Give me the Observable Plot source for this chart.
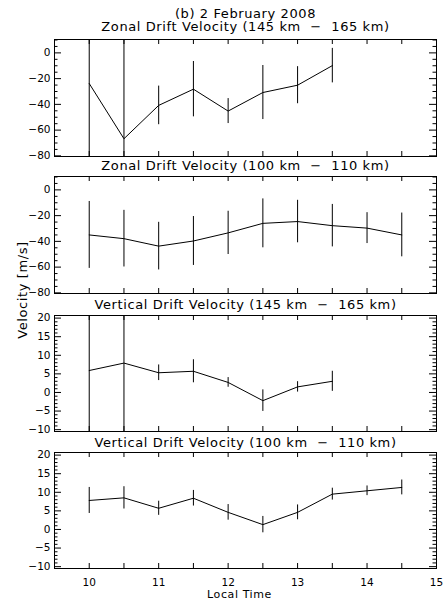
<!DOCTYPE html>
<html><head><meta charset="utf-8">
<script src="https://cdn.jsdelivr.net/npm/d3@7"></script>
<script src="https://cdn.jsdelivr.net/npm/@observablehq/plot@0.6"></script>
<style>
body{margin:0;background:#fff;}
#wrap{position:relative;width:443px;height:602px;overflow:hidden;font-family:"DejaVu Sans",sans-serif;background:#fff;}
.p{position:absolute;left:0;}
.p svg{overflow:visible;}
#ylab{position:absolute;left:22px;top:290px;transform:translate(-50%,-50%) rotate(-90deg);font-size:13px;letter-spacing:0.6px;white-space:nowrap;line-height:1;color:#000;z-index:5;}
</style></head><body><div id="wrap"><div id="ylab">Velocity [m/s]</div></div>
<script>
// ---- data ----
const mainTitle = "(b) 2 February 2008";
const panelTitles = [
  "Zonal Drift Velocity (145 km  \u2212  165 km)",
  "Zonal Drift Velocity (100 km  \u2212  110 km)",
  "Vertical Drift Velocity (145 km  \u2212  165 km)",
  "Vertical Drift Velocity (100 km  \u2212  110 km)"
];
const xLabel = "Local Time";

const timeHigh = [10, 10.5, 11, 11.5, 12, 12.5, 13, 13.5];
const timeLow = [10, 10.5, 11, 11.5, 12, 12.5, 13, 13.5, 14, 14.5];

const zonalHigh = [-23.8, -66.7, -40.8, -28.2, -45.2, -30.8, -25.1, -9.9];
const zonalHighErr = [100, 100, 15, 21.5, 9.7, 21, 14.4, 13.4];

const zonalLow = [-35.0, -37.9, -43.7, -39.7, -33.4, -26.0, -24.6, -27.8, -29.7, -35.0];
const zonalLowErr = [26, 22, 18.5, 19, 16.8, 19, 16.5, 16.5, 12, 17];

const vertHigh = [5.9, 7.9, 5.3, 5.7, 2.7, -2.2, 1.5, 3.0];
const vertHighErr = [25, 25, 2.1, 3.1, 1.3, 2.9, 1.4, 2.7];

const vertLow = [7.8, 8.5, 5.7, 8.4, 4.6, 1.3, 4.6, 9.5, 10.4, 11.3];
const vertLowErr = [3.5, 3.0, 1.9, 2.1, 2.1, 2.2, 2.0, 1.6, 1.3, 2.0];

const xTickValues = [10, 10.5, 11, 11.5, 12, 12.5, 13, 13.5, 14, 14.5];
const xTickLabels = [10, 11, 12, 13, 14, 15];
const zonalMajor = [0, -20, -40, -60, -80];
const zonalMinor = [10, 5, -5, -10, -15, -25, -30, -35, -45, -50, -55, -65, -70, -75];
const vertMajor = [20, 15, 10, 5, 0, -5, -10];
const vertMinor = d3.range(-10, 21, 1).filter(v => v % 5 !== 0);

// ---- layout ----
const W = 443, ML = 54, MR = 7, FW = W - ML - MR;

function panel(o) {
  const data = o.x.map((x, i) => ({x, y: o.y[i], lo: o.y[i] - o.err[i], hi: o.y[i] + o.err[i]}));
  const fh = o.fh;
  const marks = [
    Plot.frame({stroke: "black", strokeWidth: 1}),
    Plot.tickX(xTickValues, {x: d => d, insetTop: fh - 5, stroke: "black"}),
    Plot.tickX(xTickValues, {x: d => d, insetBottom: fh - 5, stroke: "black"}),
    Plot.tickY(o.major, {y: d => d, insetRight: FW - 7, stroke: "black"}),
    Plot.tickY(o.major, {y: d => d, insetLeft: FW - 7, stroke: "black"}),
    Plot.tickY(o.minor, {y: d => d, insetRight: FW - 3.5, stroke: "black"}),
    Plot.tickY(o.minor, {y: d => d, insetLeft: FW - 3.5, stroke: "black"}),
    Plot.axisY(o.major, {tickSize: 0, tickPadding: 4, fontSize: 10.5, label: null}),
    Plot.ruleX(data, {x: "x", y1: "lo", y2: "hi", stroke: "black", strokeWidth: 1, clip: true}),
    Plot.line(data, {x: "x", y: "y", stroke: "black", strokeWidth: 1, clip: true}),
  ];
  o.titles.forEach(t => marks.push(Plot.text([t.text], {text: d => d, frameAnchor: "top", lineAnchor: "bottom", dy: t.dy, fontSize: 13, fill: "black"})));
  if (o.xaxis) {
    marks.push(Plot.axisX(xTickLabels, {tickSize: 0, tickPadding: 10, fontSize: 10.5, label: null}));
    marks.push(Plot.text([xLabel], {text: d => d, frameAnchor: "bottom", lineAnchor: "bottom", dy: 29, dx: -6, fontSize: 11, fill: "black"}));
  }
  const svg = Plot.plot({
    width: W, height: o.mt + fh + o.mb,
    marginLeft: ML, marginRight: MR, marginTop: o.mt, marginBottom: o.mb,
    style: {color: "black", background: "transparent", overflow: "visible", fontFamily: "DejaVu Sans, sans-serif"},
    x: {domain: [9.5, 15], axis: o.xaxis ? undefined : null},
    y: {domain: o.ydomain},
    marks
  });
  d3.select(svg).selectAll('g[aria-label="text"] text').attr("letter-spacing", "0.6px");
  const div = document.createElement("div");
  div.className = "p";
  div.style.top = o.top + "px";
  div.appendChild(svg);
  document.getElementById("wrap").appendChild(div);
}

panel({top: 0, mt: 39, fh: 117, mb: 2, x: timeHigh, y: zonalHigh, err: zonalHighErr,
  ydomain: [-80.5, 10.4], major: zonalMajor, minor: zonalMinor,
  titles: [{text: mainTitle, dy: -22}, {text: panelTitles[0], dy: -8.5}]});
panel({top: 158, mt: 18, fh: 117, mb: 2, x: timeLow, y: zonalLow, err: zonalLowErr,
  ydomain: [-80.5, 10.4], major: zonalMajor, minor: zonalMinor,
  titles: [{text: panelTitles[1], dy: -6.5}]});
panel({top: 295, mt: 20, fh: 116, mb: 2, x: timeHigh, y: vertHigh, err: vertHighErr,
  ydomain: [-10.5, 20.7], major: vertMajor, minor: vertMinor,
  titles: [{text: panelTitles[2], dy: -6.5}]});
panel({top: 433, mt: 19, fh: 116, mb: 34, x: timeLow, y: vertLow, err: vertLowErr,
  ydomain: [-10.5, 20.7], major: vertMajor, minor: vertMinor, xaxis: true,
  titles: [{text: panelTitles[3], dy: -6}]});
</script></body></html>
